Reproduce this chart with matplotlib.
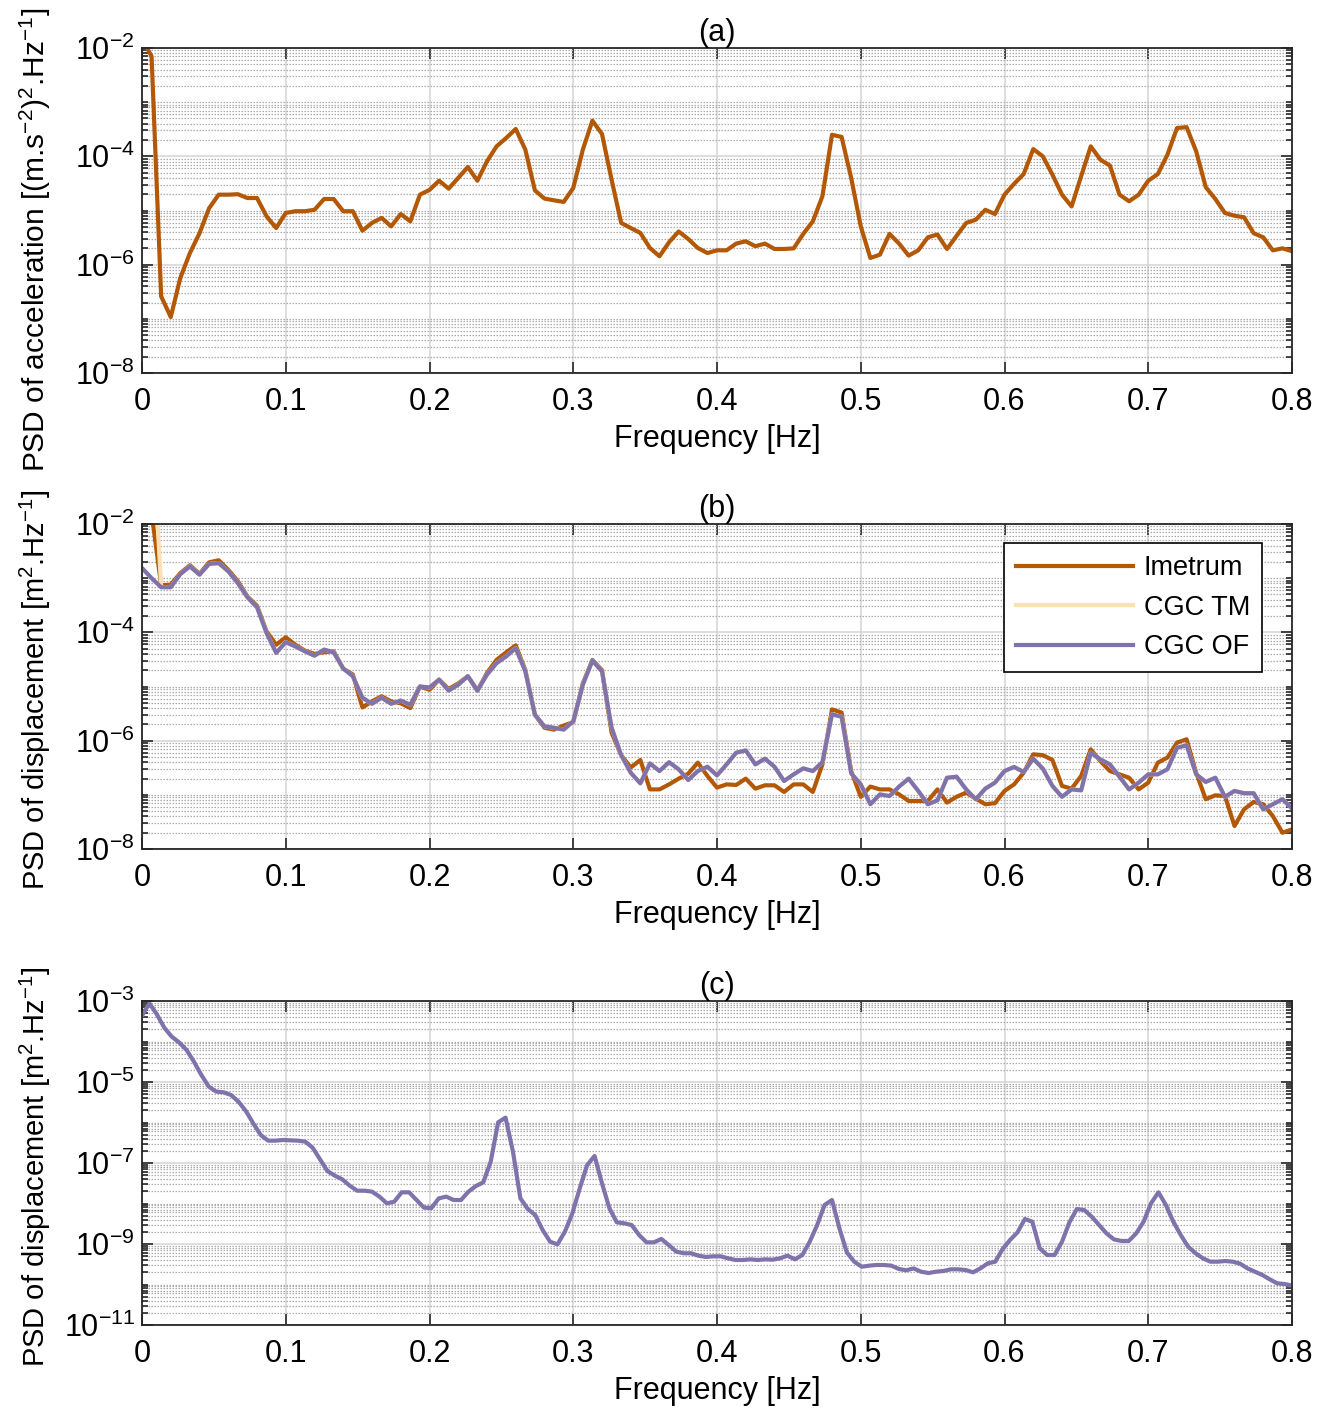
import numpy as np
import matplotlib
matplotlib.use('Agg')
import matplotlib.pyplot as plt
from matplotlib.ticker import FixedLocator, NullFormatter

plt.rcParams['font.family'] = ['Liberation Sans', 'DejaVu Sans']
plt.rcParams['mathtext.fontset'] = 'custom'
plt.rcParams['mathtext.rm'] = 'Liberation Sans'
plt.rcParams['mathtext.it'] = 'Liberation Sans:italic'
plt.rcParams['mathtext.bf'] = 'Liberation Sans:bold'

# frequency axes (bin index -> Hz)
freq_ab = np.arange(121) / 150
freq_c = np.arange(156) * 0.8 / 155

# (a) PSD of acceleration, Imetrum
acc_imetrum = [
    1.5e-2, 7.0e-3, 2.6e-7, 1.08e-7, 5.7e-7, 1.64e-6, 3.8e-6, 1.1e-5, 1.96e-5, 1.96e-5,
    2.0e-5, 1.7e-5, 1.7e-5, 7.8e-6, 4.75e-6, 9.0e-6, 9.7e-6, 9.7e-6, 1.03e-5, 1.63e-5,
    1.63e-5, 9.7e-6, 9.7e-6, 4.25e-6, 5.9e-6, 7.3e-6, 5.1e-6, 8.6e-6, 6.3e-6, 1.96e-5,
    2.4e-5, 3.55e-5, 2.53e-5, 4.0e-5, 6.35e-5, 3.55e-5, 8.1e-5, 1.53e-4, 2.18e-4, 3.2e-4,
    1.33e-4, 2.35e-5, 1.66e-5, 1.54e-5, 1.44e-5, 2.6e-5, 1.33e-4, 4.55e-4, 2.58e-4, 3.7e-5,
    5.9e-6, 4.75e-6, 3.85e-6, 2.03e-6, 1.43e-6, 2.6e-6, 4.1e-6, 2.98e-6, 2.03e-6, 1.64e-6,
    1.84e-6, 1.84e-6, 2.45e-6, 2.7e-6, 2.19e-6, 2.45e-6, 1.95e-6, 1.95e-6, 2.0e-6, 3.7e-6,
    6.3e-6, 1.83e-5, 2.5e-4, 2.28e-4, 4.0e-5, 5.1e-6, 1.33e-6, 1.53e-6, 3.7e-6, 2.45e-6,
    1.47e-6, 1.84e-6, 3.2e-6, 3.6e-6, 1.95e-6, 3.4e-6, 5.9e-6, 6.75e-6, 1.03e-5, 8.6e-6,
    1.96e-5, 3.1e-5, 4.7e-5, 1.36e-4, 1.0e-4, 4.6e-5, 1.96e-5, 1.19e-5, 4.3e-5, 1.53e-4,
    8.7e-5, 6.76e-5, 1.96e-5, 1.48e-5, 1.96e-5, 3.55e-5, 4.7e-5, 1.07e-4, 3.33e-4, 3.46e-4,
    1.24e-4, 2.7e-5, 1.63e-5, 9.0e-6, 8.0e-6, 7.5e-6, 3.8e-6, 3.2e-6, 1.84e-6, 2.0e-6,
    1.77e-6,
]

# (b) PSD of displacement
disp_imetrum = [
    5.0e-2, 1.6e-2, 7.4e-4, 7.6e-4, 1.24e-3, 1.73e-3, 1.2e-3, 1.96e-3, 2.14e-3, 1.43e-3,
    8.8e-4, 4.6e-4, 3.1e-4, 1.04e-4, 5.9e-5, 8.1e-5, 5.9e-5, 4.6e-5, 4.0e-5, 4.3e-5,
    4.46e-5, 2.14e-5, 1.66e-5, 4.1e-6, 5.3e-6, 6.6e-6, 5.3e-6, 4.9e-6, 4.0e-6, 1.0e-5,
    8.7e-6, 1.34e-5, 9.0e-6, 1.14e-5, 1.55e-5, 8.4e-6, 1.78e-5, 3.1e-5, 4.27e-5, 5.75e-5,
    2.0e-5, 3.0e-6, 1.73e-6, 1.6e-6, 1.9e-6, 2.2e-6, 1.14e-5, 3.1e-5, 2.0e-5, 1.41e-6,
    5.4e-7, 3.2e-7, 4.4e-7, 1.26e-7, 1.26e-7, 1.56e-7, 1.99e-7, 2.46e-7, 3.93e-7, 2.23e-7,
    1.36e-7, 1.56e-7, 1.52e-7, 1.99e-7, 1.3e-7, 1.5e-7, 1.5e-7, 1.13e-7, 1.56e-7, 1.56e-7,
    1.13e-7, 3.65e-7, 3.78e-6, 3.3e-6, 2.75e-7, 9.2e-8, 1.42e-7, 1.26e-7, 1.26e-7, 1.02e-7,
    7.7e-8, 7.7e-8, 7.7e-8, 1.26e-7, 7.2e-8, 9.2e-8, 1.1e-7, 8.5e-8, 6.7e-8, 7.0e-8,
    1.18e-7, 1.56e-7, 2.56e-7, 5.6e-7, 5.4e-7, 4.4e-7, 1.46e-7, 1.3e-7, 2.23e-7, 6.9e-7,
    4.2e-7, 2.75e-7, 2.39e-7, 2.07e-7, 1.26e-7, 1.68e-7, 3.93e-7, 4.86e-7, 9.2e-7, 1.06e-6,
    2.56e-7, 8.3e-8, 9.8e-8, 9.5e-8, 2.66e-8, 5.4e-8, 7.4e-8, 6.7e-8, 4.06e-8, 2.0e-8,
    2.3e-8,
]

disp_cgc_of = [
    1.54e-3, 1.0e-3, 6.8e-4, 6.8e-4, 1.19e-3, 1.65e-3, 1.16e-3, 1.83e-3, 1.9e-3, 1.34e-3,
    8.1e-4, 4.43e-4, 2.9e-4, 9.7e-5, 4.17e-5, 6.6e-5, 5.5e-5, 4.46e-5, 3.7e-5, 4.8e-5,
    4.27e-5, 2.14e-5, 1.55e-5, 6.2e-6, 4.8e-6, 6.2e-6, 4.8e-6, 5.5e-6, 4.6e-6, 1.0e-5,
    9.6e-6, 1.34e-5, 8.4e-6, 1.08e-5, 1.55e-5, 8.4e-6, 1.66e-5, 2.7e-5, 3.6e-5, 5.1e-5,
    1.9e-5, 3.0e-6, 1.84e-6, 1.73e-6, 1.6e-6, 2.28e-6, 1.08e-5, 3.0e-5, 1.9e-5, 1.74e-6,
    5.4e-7, 2.56e-7, 1.63e-7, 3.8e-7, 2.75e-7, 4.0e-7, 2.96e-7, 1.88e-7, 2.75e-7, 3.3e-7,
    2.29e-7, 3.65e-7, 6.0e-7, 6.6e-7, 3.65e-7, 4.65e-7, 3.3e-7, 1.8e-7, 2.39e-7, 3.08e-7,
    2.75e-7, 4.0e-7, 3.06e-6, 2.77e-6, 2.5e-7, 1.56e-7, 6.7e-8, 1.02e-7, 9.5e-8, 1.42e-7,
    1.99e-7, 1.18e-7, 6.7e-8, 7.9e-8, 2.07e-7, 2.16e-7, 1.26e-7, 8.3e-8, 1.3e-7, 1.68e-7,
    2.75e-7, 3.27e-7, 2.64e-7, 4.65e-7, 3.04e-7, 1.46e-7, 9.2e-8, 1.26e-7, 1.21e-7, 6.0e-7,
    4.52e-7, 3.65e-7, 2.16e-7, 1.26e-7, 1.68e-7, 2.39e-7, 2.39e-7, 2.96e-7, 7.4e-7, 8.2e-7,
    2.39e-7, 1.73e-7, 2.07e-7, 9.2e-8, 1.18e-7, 1.07e-7, 1.07e-7, 5.4e-8, 6.7e-8, 8.3e-8,
    5.6e-8,
]

# CGC TM overlaps CGC OF except for the first two bins
disp_cgc_tm = [1.0, 1.0] + disp_cgc_of[2:]

# (c) PSD of displacement, CGC OF
disp_c = [
    4.35e-4, 8.75e-4, 4.69e-4, 2.2e-4, 1.32e-4, 9.5e-5, 6.2e-5, 3.18e-5, 1.49e-5, 7.7e-6,
    5.8e-6, 5.56e-6, 4.78e-6, 3.27e-6, 1.92e-6, 9.5e-7, 4.9e-7, 3.56e-7, 3.56e-7, 3.7e-7,
    3.63e-7, 3.56e-7, 3.37e-7, 2.39e-7, 1.23e-7, 6.3e-8, 4.86e-8, 3.95e-8, 2.75e-8, 2.07e-8,
    2.07e-8, 1.96e-8, 1.48e-8, 1.01e-8, 1.11e-8, 1.89e-8, 1.89e-8, 1.22e-8, 7.9e-9, 7.7e-9,
    1.34e-8, 1.48e-8, 1.22e-8, 1.22e-8, 1.96e-8, 2.7e-8, 3.33e-8, 1.08e-7, 1.01e-6, 1.32e-6,
    1.9e-7, 1.34e-8, 7.3e-9, 5.2e-9, 2.22e-9, 1.14e-9, 9.8e-10, 2.02e-9, 5.7e-9, 2.37e-8,
    8.9e-8, 1.49e-7, 3.15e-8, 7.6e-9, 3.43e-9, 3.24e-9, 2.94e-9, 1.67e-9, 1.1e-9, 1.1e-9,
    1.33e-9, 9.4e-10, 6.5e-10, 5.9e-10, 5.9e-10, 5.15e-10, 4.78e-10, 4.96e-10, 4.96e-10, 4.43e-10,
    4.03e-10, 4.03e-10, 4.18e-10, 4.03e-10, 4.18e-10, 4.1e-10, 4.43e-10, 5.15e-10, 4.18e-10, 5.35e-10,
    1.14e-9, 2.94e-9, 9.2e-9, 1.22e-8, 2.44e-9, 6.2e-10, 3.66e-10, 2.75e-10, 2.92e-10, 3.03e-10,
    3.03e-10, 2.92e-10, 2.42e-10, 2.24e-10, 2.5e-10, 2.07e-10, 1.92e-10, 2.07e-10, 2.15e-10, 2.37e-10,
    2.37e-10, 2.28e-10, 2.0e-10, 2.5e-10, 3.33e-10, 3.66e-10, 7.5e-10, 1.26e-9, 1.94e-9, 4.14e-9,
    3.56e-9, 7.8e-10, 5.35e-10, 5.35e-10, 1.14e-9, 3.43e-9, 7.3e-9, 6.9e-9, 4.73e-9, 2.94e-9,
    1.83e-9, 1.3e-9, 1.19e-9, 1.19e-9, 1.83e-9, 3.56e-9, 1.01e-8, 1.89e-8, 9.2e-9, 3.56e-9,
    1.67e-9, 8.6e-10, 5.9e-10, 4.43e-10, 3.66e-10, 3.66e-10, 3.8e-10, 3.66e-10, 3.27e-10, 2.5e-10,
    2.07e-10, 1.72e-10, 1.34e-10, 1.07e-10, 1.03e-10, 9.4e-11,
]

xticks = [0, 0.1, 0.2, 0.3, 0.4, 0.5, 0.6, 0.7, 0.8]
xticklabels = ['0', '0.1', '0.2', '0.3', '0.4', '0.5', '0.6', '0.7', '0.8']

c_imetrum = '#b35806'
c_tm = '#fee0b6'
c_of = '#8073ac'
axcol = '#262626'
fs = 22
lw = 3.0


def style_axis(ax, dec_lo, dec_hi, dec_labels, title, ylabel, ylab_y, ylab_fs):
    ax.set_yscale('log')
    ax.set_xlim(0, 0.8)
    ax.set_ylim(10.0 ** dec_lo, 10.0 ** dec_hi)
    ax.set_xticks(xticks)
    ax.set_xticklabels(xticklabels)
    major = [10.0 ** d for d in dec_labels]
    minor = []
    for d in range(dec_lo, dec_hi):
        for m in range(1, 10):
            if m == 1 and d in dec_labels:
                continue
            minor.append(m * 10.0 ** d)
    ax.yaxis.set_major_locator(FixedLocator(major))
    ax.yaxis.set_minor_locator(FixedLocator(minor))
    ax.set_yticklabels(['10$^{%d}$' % d for d in dec_labels])
    ax.yaxis.set_minor_formatter(NullFormatter())
    ax.tick_params(which='both', direction='in', top=True, right=True,
                   colors=axcol, labelcolor='black', labelsize=fs, width=1.2)
    ax.tick_params(which='major', length=8)
    ax.tick_params(which='minor', length=4.5)
    ax.tick_params(axis='x', which='major', pad=10)
    ax.tick_params(axis='y', which='major', pad=5)
    for s in ax.spines.values():
        s.set_color(axcol)
        s.set_linewidth(1.3)
    ax.grid(True, which='major', axis='both', color='#d4d4d4', lw=1.1, ls='-')
    ax.grid(True, which='minor', axis='y', color='#ababab', lw=0.9, ls=(0, (1.2, 1.2)))
    ax.set_axisbelow(True)
    ax.set_title(title, fontsize=fs, pad=3)
    ax.set_xlabel('Frequency [Hz]', fontsize=fs, labelpad=5)
    ax.set_ylabel(ylabel, fontsize=ylab_fs)
    ax.yaxis.set_label_coords(-0.077, ylab_y)


fig = plt.figure(figsize=(13.26, 14.08), dpi=100)
left = 142 / 1326
width = 1150 / 1326
ax_a = fig.add_axes([left, 1 - 373 / 1408, width, 325 / 1408])
ax_b = fig.add_axes([left, 1 - 849 / 1408, width, 325 / 1408])
ax_c = fig.add_axes([left, 1 - 1325 / 1408, width, 324 / 1408])

ax_a.plot(freq_ab, acc_imetrum, color=c_imetrum, lw=lw)
style_axis(ax_a, -8, -2, [-8, -6, -4, -2], '(a)',
           'PSD of acceleration [(m.s$^{-2}$)$^2$.Hz$^{-1}$]', 0.41, 21.5)

ax_b.plot(freq_ab, disp_imetrum, color=c_imetrum, lw=lw, label='Imetrum')
ax_b.plot(freq_ab, disp_cgc_tm, color=c_tm, lw=lw, label='CGC TM')
ax_b.plot(freq_ab, disp_cgc_of, color=c_of, lw=lw, label='CGC OF')
style_axis(ax_b, -8, -2, [-8, -6, -4, -2], '(b)',
           'PSD of displacement [m$^2$.Hz$^{-1}$]', 0.49, 21)
leg = ax_b.legend(loc='upper right', bbox_to_anchor=(0.974, 0.9415), borderaxespad=0,
                  fontsize=19.5, fancybox=False, edgecolor='black', framealpha=1,
                  handlelength=4.3, handletextpad=0.4, labelspacing=0.5,
                  borderpad=0.45)
leg.get_frame().set_linewidth(1.2)

ax_c.plot(freq_c, disp_c, color=c_of, lw=lw)
style_axis(ax_c, -11, -3, [-11, -9, -7, -5, -3], '(c)',
           'PSD of displacement [m$^2$.Hz$^{-1}$]', 0.49, 21)

fig.savefig('out.png', dpi=100)
